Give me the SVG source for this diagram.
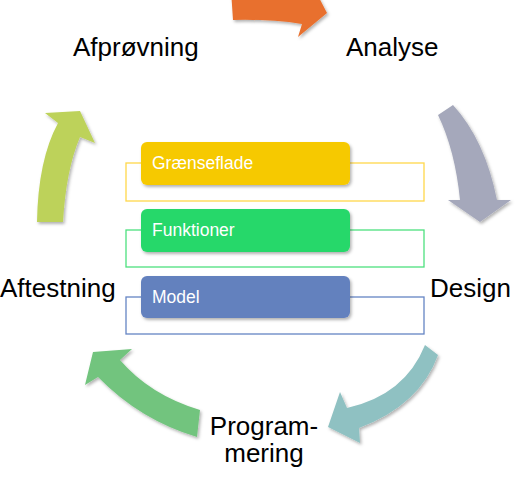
<svg xmlns="http://www.w3.org/2000/svg" width="518" height="478" viewBox="0 0 518 478">
<defs>
<filter id="sh" x="-20%" y="-20%" width="140%" height="140%">
<feDropShadow dx="1.5" dy="2" stdDeviation="1.5" flood-color="#000" flood-opacity="0.3"/>
</filter>
</defs>
<style>
.lbl{font-family:"Liberation Sans",Arial,sans-serif;font-size:26px;fill:#000}
.bt{font-family:"Liberation Sans",Arial,sans-serif;font-size:17.5px;fill:#fff}
.ol{fill:none;stroke-width:1.3}
.arr{filter:url(#sh)}
</style>
<rect width="518" height="478" fill="#fff"/>
<g id="connectors">
<path class="arr" fill="#E8702E" d="M231,-10 L233,20 Q270,19 302,24 L298,37 L327,13 L315,-10 Z"/>
<path class="arr" fill="#A5A8BB" d="M438,115 Q455,150 460,200 L448,200 L480,222 L511,200 L497,200 Q485,140 453,105 Z"/>
<path class="arr" fill="#8FC1C2" d="M425,345 Q405,395 347,408 L340,392 L328,427 L360,443 L359,428 Q420,405 438,355 Z"/>
<path class="arr" fill="#72C47E" d="M200,410 Q150,395 120,360 L132,349 L93,352 L85,385 L98,377 Q140,420 197,437 Z"/>
<path class="arr" fill="#BDD25A" d="M37,222 Q38,160 58,123 L45,113 L80,111 L95,143 L80,137 Q66,170 63,222 Z"/>
</g>
<g id="node-analyse"><text class="lbl" x="346" y="56">Analyse</text></g>
<g id="node-design"><text class="lbl" x="430" y="297">Design</text></g>
<g id="node-programmering"><text class="lbl" x="264" y="435" text-anchor="middle">Program-</text><text class="lbl" x="264" y="462" text-anchor="middle">mering</text></g>
<g id="node-aftestning"><text class="lbl" x="0" y="297">Aftestning</text></g>
<g id="node-afproevning"><text class="lbl" x="73" y="56">Afprøvning</text></g>
<g id="node-graenseflade">
<rect class="ol" x="126" y="163" width="298" height="38" stroke="#FFD84A"/>
<rect x="141" y="142" width="209" height="43" rx="6" fill="#F6C900" filter="url(#sh)"/>
<text class="bt" x="152" y="169">Grænseflade</text>
</g>
<g id="node-funktioner">
<rect class="ol" x="126" y="230" width="298" height="37" stroke="#4DE07F"/>
<rect x="141" y="209" width="209" height="43" rx="6" fill="#27D86A" filter="url(#sh)"/>
<text class="bt" x="152" y="236">Funktioner</text>
</g>
<g id="node-model">
<rect class="ol" x="126" y="297" width="298" height="37" stroke="#6585C4"/>
<rect x="141" y="276" width="209" height="42" rx="6" fill="#6381BE" filter="url(#sh)"/>
<text class="bt" x="152" y="303">Model</text>
</g>
</svg>
